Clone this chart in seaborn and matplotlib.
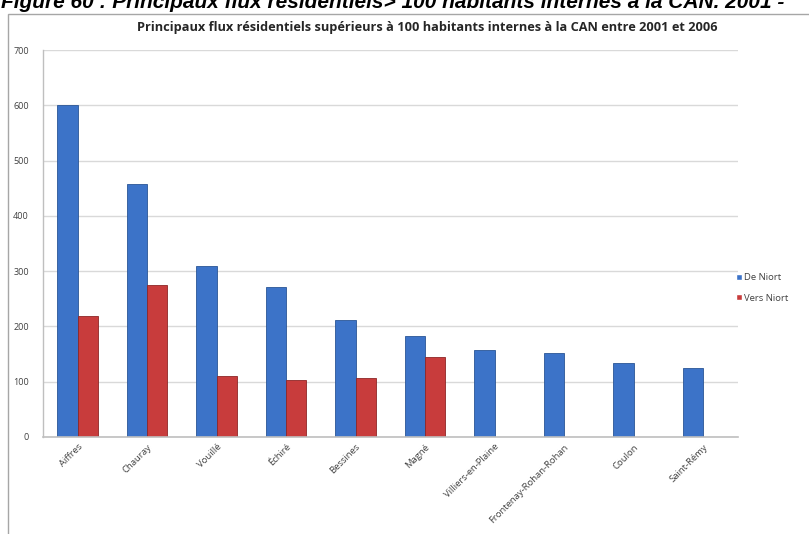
import matplotlib
matplotlib.use("Agg")
import matplotlib.pyplot as plt
import seaborn as sns
import pandas as pd
import numpy as np
from matplotlib.patches import Rectangle

communes = ["Aiffres", "Chauray", "Vouillé", "Échiré", "Bessines", "Magné",
            "Villiers-en-Plaine", "Frontenay-Rohan-Rohan", "Coulon", "Saint-Rémy"]
de_niort = [600, 457, 309, 272, 212, 183, 157, 152, 134, 124]
vers_niort = [218, 275, 110, 103, 107, 145, np.nan, np.nan, np.nan, np.nan]
series = ["De Niort", "Vers Niort"]
yticks = [0, 100, 200, 300, 400, 500, 600, 700]

df = pd.DataFrame({
    "commune": communes * 2,
    "valeur": de_niort + vers_niort,
    "serie": [series[0]] * len(communes) + [series[1]] * len(communes),
})

sns.set_style("white")
plt.rcParams["font.family"] = ["Open Sans", "DejaVu Sans"]

fig = plt.figure(figsize=(8.09, 5.34), dpi=100)
ax = fig.add_axes([0.053, 0.182, 0.859, 0.724])

palette = {"De Niort": "#3c73c8", "Vers Niort": "#c83c3c"}
sns.barplot(data=df, x="commune", y="valeur", hue="serie", palette=palette,
            width=0.58, ax=ax, saturation=1, legend=True)
edge = ["#2a5596", "#8e2626"]
for cont, ec in zip(ax.containers, edge):
    for p in cont:
        p.set_edgecolor(ec)
        p.set_linewidth(0.6)

ax.set_ylim(0, 700)
ax.set_yticks(yticks)
ax.set_yticklabels([str(t) for t in yticks], fontsize=6.5, color="#404040")
ax.set_xlim(-0.5, len(communes) - 0.5)
ax.set_xlabel("")
ax.set_ylabel("")
ax.tick_params(axis="both", length=0, pad=10)
ax.tick_params(axis="x", pad=4)
plt.setp(ax.get_xticklabels(), rotation=45, ha="right", rotation_mode="anchor",
         fontsize=6.8, color="#404040")
ax.yaxis.grid(True, color="#d9d9d9", linewidth=1)
ax.set_axisbelow(True)
for s in ["top", "right"]:
    ax.spines[s].set_visible(False)
ax.spines["left"].set_color("#bfbfbf")
ax.spines["bottom"].set_color("#bfbfbf")
ax.spines["left"].set_linewidth(1)
ax.spines["bottom"].set_linewidth(1.2)

leg = ax.legend(loc="center left", bbox_to_anchor=(0.985, 0.385), frameon=False,
                fontsize=6.8, handlelength=0.6, handleheight=0.6,
                handletextpad=0.3, labelspacing=1.2)
for t in leg.get_texts():
    t.set_color("#404040")

fig.text(427 / 809, 1 - 27 / 534, "Principaux flux résidentiels supérieurs à 100 habitants internes à la CAN entre 2001 et 2006",
         ha="center", va="center", fontsize=9.2, fontweight="bold", color="#262626")

fig.text(1 / 809, 1 - 8 / 534,
         "Figure 60 : Principaux flux résidentiels> 100 habitants internes à la CAN. 2001 -",
         ha="left", va="baseline", fontsize=15, fontweight="bold", fontstyle="italic",
         family=["Liberation Sans", "DejaVu Sans"], color="black")

fig.patches.append(Rectangle((8 / 809, -0.05), 1.1, 1 - 14 / 534 + 0.05,
                             transform=fig.transFigure, fill=False,
                             edgecolor="#a6a6a6", linewidth=1))

fig.savefig("out.png", dpi=100)
